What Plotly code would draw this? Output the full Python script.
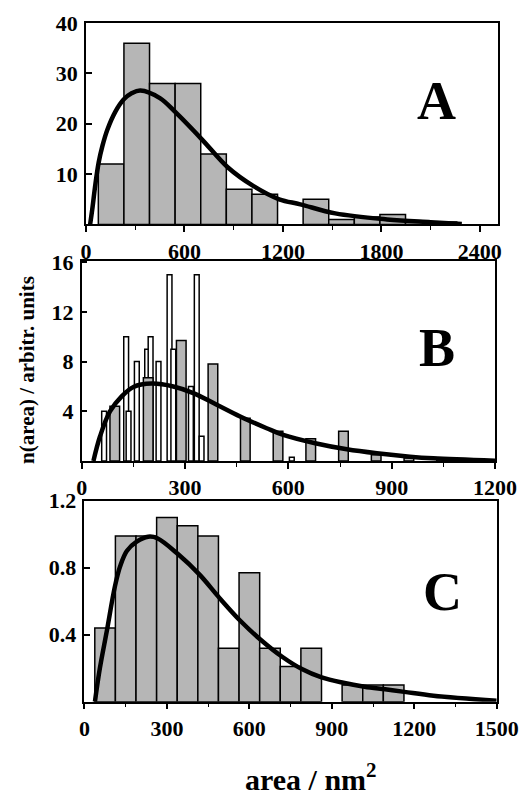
import plotly.graph_objects as go

# ---- panel A: histogram + fitted distribution
A_BIN_CENTERS = [153, 309, 465, 621, 777, 933, 1089, 1401, 1557, 1713, 1869, 2025, 2181]
A_COUNTS = [12, 36, 28, 28, 14, 7, 6, 5, 1, 1.5, 2, 0.5, 0.5]
A_FIT_X = [25, 40, 55, 77, 100, 130, 179, 229, 280, 331, 450, 548, 706, 865, 1021, 1177, 1306,
           1519, 1834, 2100, 2290]
A_FIT_Y = [0, 3.5, 7.5, 12.3, 15.6, 18.8, 22.4, 24.8, 26.1, 26.6, 25.1, 22.2, 16.9, 11.3, 7.6, 5.0,
           4.0, 2.2, 1.0, 0.45, 0.1]

# ---- panel B: two overlaid histograms + fit
B_GRAY_X = [96, 193, 289, 381, 475, 570, 665, 760, 855, 950, 1045, 1140]
B_GRAY_Y = [4.4, 6.7, 9.7, 7.8, 3.45, 2.4, 1.8, 2.4, 0.5, 0.25, 0.15, 0.1]
B_WHITE_X = [65, 129, 136, 160, 190, 200, 223, 255, 266, 317, 334, 348, 610]
B_WHITE_Y = [4, 10, 4, 8, 9, 10, 8, 15, 9, 6, 15, 2, 0.3]
B_FIT_X = [34, 53, 82, 116, 150, 203, 266, 324, 392, 460, 537, 585, 678, 770, 857, 953, 1021, 1200]
B_FIT_Y = [0, 1.97, 3.99, 5.2, 5.96, 6.23, 6.0, 5.47, 4.53, 3.58, 2.64, 2.1, 1.43, 0.94, 0.62, 0.35, 0.22, 0.03]

# ---- panel C
C_BIN_CENTERS = [75, 150, 225, 300, 375, 450, 525, 600, 675, 750, 825, 975, 1050, 1125]
C_VALUES = [0.44, 0.99, 0.99, 1.10, 1.05, 0.99, 0.32, 0.77, 0.32, 0.21, 0.32, 0.10, 0.10, 0.10]
C_FIT_X = [38, 56, 81, 111, 130, 154, 190, 232, 265, 341, 418, 491, 566, 641, 718, 791, 863, 942,
           1019, 1094, 1164, 1270, 1500]
C_FIT_Y = [0, 0.2, 0.42, 0.69, 0.81, 0.90, 0.956, 0.985, 0.976, 0.88, 0.76, 0.62, 0.485, 0.37,
           0.27, 0.195, 0.145, 0.113, 0.09, 0.074, 0.059, 0.036, 0.006]

GRAY = "#b6b6b6"
FONT = "Liberation Serif"
BAR_LINE = dict(color="black", width=1.5)
FIT_LINE = dict(color="black", width=4.5, shape="spline", smoothing=1.0)

fig = go.Figure()

fig.add_bar(x=A_BIN_CENTERS, y=A_COUNTS, width=156, marker=dict(color=GRAY, line=BAR_LINE),
            xaxis="x", yaxis="y")
fig.add_scatter(x=A_FIT_X, y=A_FIT_Y, mode="lines", line=FIT_LINE, xaxis="x", yaxis="y")

fig.add_bar(x=B_WHITE_X, y=B_WHITE_Y, width=14, marker=dict(color="white", line=BAR_LINE),
            xaxis="x2", yaxis="y2")
fig.add_bar(x=B_GRAY_X, y=B_GRAY_Y, width=28, marker=dict(color=GRAY, line=BAR_LINE),
            xaxis="x2", yaxis="y2")
fig.add_scatter(x=B_FIT_X, y=B_FIT_Y, mode="lines", line=FIT_LINE, xaxis="x2", yaxis="y2")

fig.add_bar(x=C_BIN_CENTERS, y=C_VALUES, width=75, marker=dict(color=GRAY, line=BAR_LINE),
            xaxis="x3", yaxis="y3")
fig.add_scatter(x=C_FIT_X, y=C_FIT_Y, mode="lines", line=FIT_LINE, xaxis="x3", yaxis="y3")

tickfont = dict(family=FONT, size=22, color="black", weight="bold")
base = dict(showline=True, linecolor="black", linewidth=1.5, mirror=True, showgrid=False,
            zeroline=False, tickcolor="black", tickwidth=1.5, tickfont=tickfont)
xax = dict(base, ticks="outside", ticklen=6,
           minor=dict(ticks="outside", ticklen=4, tickwidth=1.2, tickcolor="black"))
yax = dict(base, ticks="inside", ticklen=6, ticklabelstandoff=2)

fig.update_layout(
    width=531, height=794, margin=dict(l=0, r=0, t=0, b=0, autoexpand=False),
    paper_bgcolor="white", plot_bgcolor="white", showlegend=False, barmode="overlay",
    xaxis=dict(xax, domain=[0.162, 0.938], range=[0, 2511], tickvals=[0, 600, 1200, 1800, 2400],
               minor=dict(xax["minor"], dtick=300), anchor="y"),
    yaxis=dict(yax, domain=[0.7173, 0.9710], range=[0, 40], tickvals=[10, 20, 30, 40], anchor="x"),
    xaxis2=dict(xax, domain=[0.1539, 0.9322], range=[0, 1200], tickvals=[0, 300, 600, 900, 1200],
                minor=dict(xax["minor"], dtick=150), anchor="y2"),
    yaxis2=dict(yax, domain=[0.4194, 0.6713], range=[0, 16.1], tickvals=[4, 8, 12, 16], anchor="x2"),
    xaxis3=dict(xax, domain=[0.1591, 0.9354], range=[0, 1500],
                tickvals=[0, 300, 600, 900, 1200, 1500],
                minor=dict(xax["minor"], dtick=150), anchor="y3"),
    yaxis3=dict(yax, domain=[0.1162, 0.3694], range=[0, 1.2], tickvals=[0.4, 0.8, 1.2],
                ticktext=["0.4", "0.8", "1.2"], anchor="x3"),
)

letter_font = dict(family=FONT, size=54, color="black", weight="bold")
for txt, x, y in [("A", 0.822, 0.8734), ("B", 0.8224, 0.5623), ("C", 0.8333, 0.2544)]:
    fig.add_annotation(text=txt, x=x, y=y, xref="paper", yref="paper", showarrow=False,
                       xanchor="center", yanchor="middle", font=letter_font)

fig.add_annotation(text="n(area) / arbitr. units", x=0.0508, y=0.534, xref="paper", yref="paper",
                   showarrow=False, textangle=-90, xanchor="center", yanchor="middle",
                   font=dict(family=FONT, size=21, color="black", weight="bold"))
fig.add_annotation(text="area / nm<sup>2</sup>", x=0.586, y=0.0215, xref="paper", yref="paper",
                   showarrow=False, xanchor="center", yanchor="middle",
                   font=dict(family=FONT, size=30, color="black", weight="bold"))

# the page body has an 8px default margin; drop it so the figure sits at (0, 0)
fig.write_html("out.html", config={"displayModeBar": False},
               post_script="document.body.style.margin = '0';")
